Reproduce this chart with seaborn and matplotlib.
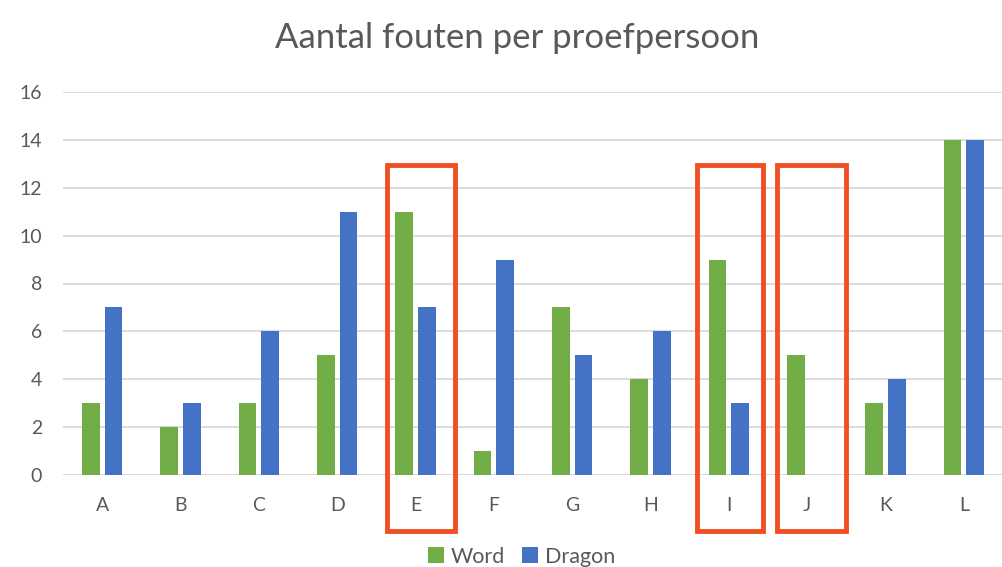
import numpy as np
import pandas as pd
import matplotlib.pyplot as plt
import seaborn as sns
from matplotlib.patches import Rectangle

# ── Data ──────────────────────────────────────────────────────────────────────
participants = ["A", "B", "C", "D", "E", "F", "G", "H", "I", "J", "K", "L"]
word_errors = [3, 2, 3, 5, 11, 1, 7, 4, 9, 5, 3, 14]
dragon_errors = [7, 3, 6, 11, 7, 9, 5, 6, 3, 0, 4, 14]
series_names = ["Word", "Dragon"]
highlighted = ["E", "I", "J"]
y_ticks = [0, 2, 4, 6, 8, 10, 12, 14, 16]

df = pd.DataFrame({
    "Proefpersoon": participants * 2,
    "Fouten": word_errors + dragon_errors,
    "Programma": [series_names[0]] * len(participants) + [series_names[1]] * len(participants),
})

sns.set_theme(style="white")
plt.rcParams["font.family"] = ["Lato", "DejaVu Sans"]

GREY_TXT = "#595959"
fig = plt.figure(figsize=(10.03, 5.67), dpi=100)
ax = fig.add_axes([0.0628, 0.1623, 0.9372, 0.6754])

sns.barplot(data=df, x="Proefpersoon", y="Fouten", hue="Programma",
            palette={"Word": "#70AD47", "Dragon": "#4472C4"}, saturation=1,
            width=0.58, gap=0.23, linewidth=0, ax=ax, legend=True, zorder=3)

ax.set_ylim(0, 16)
ax.set_xlim(-0.5, len(participants) - 0.5)
ax.set_yticks(y_ticks)
ax.yaxis.grid(True, color="#d9d9d9", linewidth=1.3, zorder=0)
ax.set_axisbelow(True)
for s in ax.spines.values():
    s.set_visible(False)
ax.axhline(0, color="#d9d9d9", linewidth=1.3, zorder=1)
ax.tick_params(axis="both", length=0, labelsize=14, colors=GREY_TXT)
ax.tick_params(axis="y", pad=15)
ax.tick_params(axis="x", pad=16)
ax.set_xlabel("")
ax.set_ylabel("")

# legend below the plot, as low as it fits
handles, labels = ax.get_legend_handles_labels()
ax.get_legend().remove()
fig.legend(handles, labels, loc="lower center", bbox_to_anchor=(0.52, -0.026), ncol=2,
           frameon=False, fontsize=15.5, labelcolor=GREY_TXT, handlelength=0.75,
           handleheight=0.75, handletextpad=0.3, columnspacing=0.8,
           borderpad=0.2)

fig.text(0.516, 0.933, "Aantal fouten per proefpersoon", ha="center", va="center",
         fontsize=25, color=GREY_TXT)

# red highlight boxes (left/right extent relative to category centre)
box_extent = {"E": (-0.37, 0.50), "I": (-0.41, 0.43), "J": (-0.38, 0.49)}
for p in highlighted:
    i = participants.index(p)
    lo, hi = box_extent[p]
    ax.add_patch(Rectangle((i + lo, -2.35), hi - lo, 15.3, fill=False,
                           edgecolor="#F04E23", linewidth=3.5, clip_on=False, zorder=5))

fig.savefig("out.png", dpi=100)
